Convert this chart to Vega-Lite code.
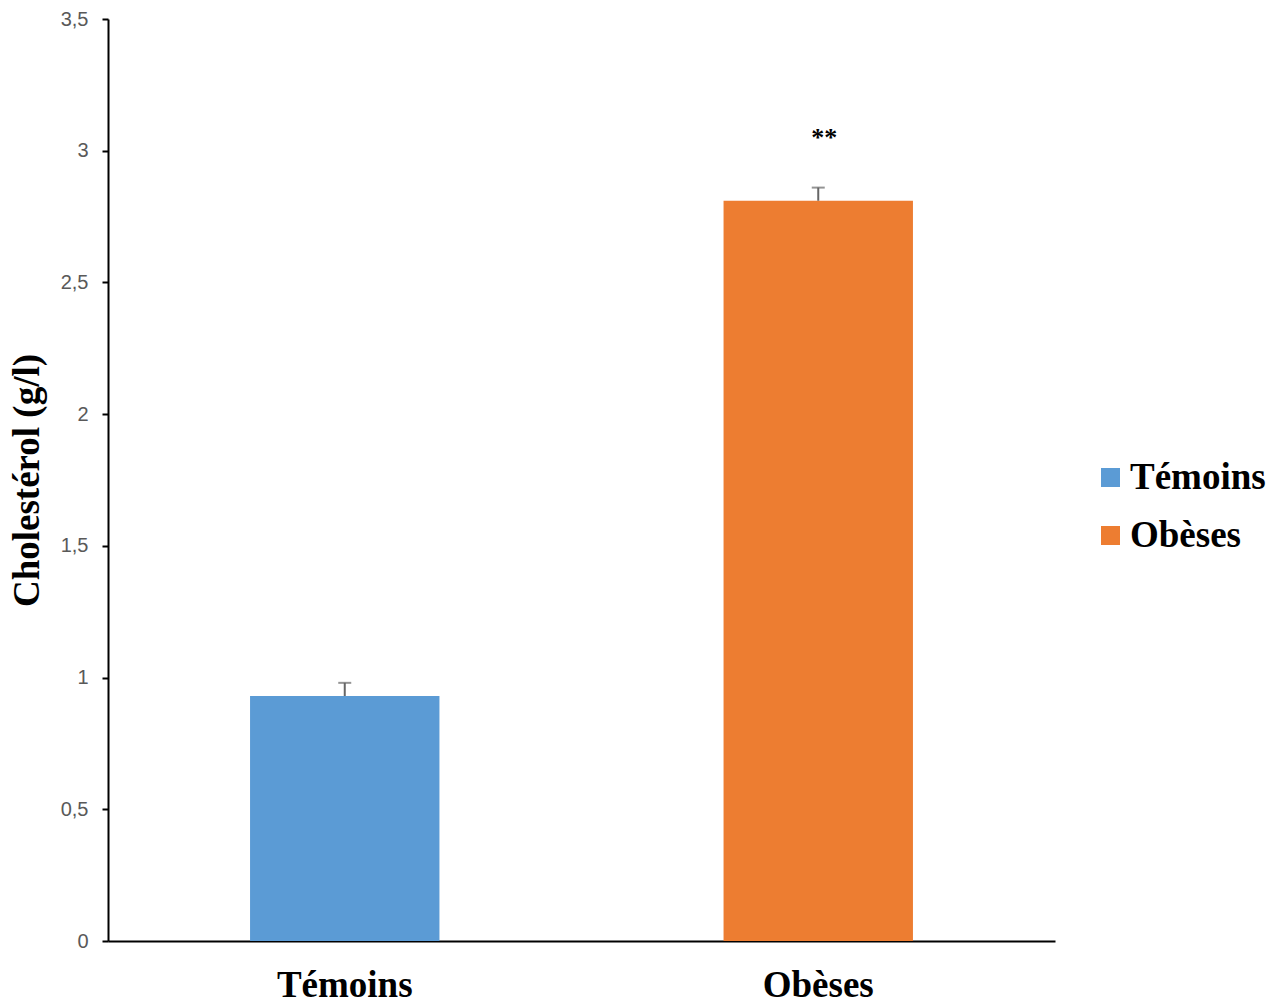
{
  "$schema": "https://vega.github.io/schema/vega-lite/v6.json",
  "autosize": {"type": "none"},
  "padding": {"left": 108, "top": 19, "right": 228, "bottom": 62},
  "width": 947,
  "height": 922,
  "background": "white",
  "config": {"view": {"stroke": null}},
  "data": {"values": [
    {"groupe": "Témoins", "chol": 0.93, "haut": 0.98, "sig": ""},
    {"groupe": "Obèses", "chol": 2.81, "haut": 2.86, "sig": "**"}
  ]},
  "encoding": {
    "x": {"field": "groupe", "type": "nominal", "sort": ["Témoins", "Obèses"],
      "scale": {"paddingInner": 0.6, "paddingOuter": 0.3},
      "axis": {"title": null, "labelAngle": 0, "ticks": false, "domainColor": "black", "domainWidth": 2,
        "labelFont": "Liberation Serif", "labelFontWeight": "bold", "labelFontSize": 37, "labelColor": "black",
        "labelPadding": 26, "labelBaseline": "top"}}
  },
  "layer": [
    {
      "mark": {"type": "bar"},
      "encoding": {
        "y": {"field": "chol", "type": "quantitative",
          "scale": {"domain": [0, 3.5], "nice": false},
          "axis": {"values": [0, 0.5, 1, 1.5, 2, 2.5, 3, 3.5], "grid": false,
            "labelExpr": "replace(format(datum.value, '~g'), '.', ',')",
            "domainColor": "black", "domainWidth": 2, "tickColor": "black", "tickWidth": 2, "tickSize": 6,
            "labelFont": "Liberation Sans", "labelFontSize": 20, "labelColor": "#595959", "labelPadding": 14,
            "title": "Cholestérol (g/l)", "titleFont": "Liberation Serif", "titleFontWeight": "bold",
            "titleFontSize": 37, "titleColor": "black", "titlePadding": 14}},
        "color": {"field": "groupe", "type": "nominal",
          "scale": {"domain": ["Témoins", "Obèses"], "range": ["#5B9BD5", "#ED7D31"]},
          "legend": {"title": null, "orient": "none", "legendX": 984, "legendY": 440,
            "symbolType": "square", "symbolSize": 361, "symbolStrokeWidth": 0,
            "labelFont": "Liberation Serif", "labelFontWeight": "bold", "labelFontSize": 37, "labelColor": "black",
            "labelOffset": 1, "rowPadding": 20, "padding": 0, "labelLimit": 400}}
      }
    },
    {
      "mark": {"type": "rule", "color": "#666666", "strokeWidth": 2},
      "encoding": {"y": {"field": "chol", "type": "quantitative"}, "y2": {"field": "haut"}}
    },
    {
      "mark": {"type": "tick", "color": "#666666", "thickness": 2, "size": 13, "orient": "horizontal"},
      "encoding": {"y": {"field": "haut", "type": "quantitative"}}
    },
    {
      "mark": {"type": "text", "font": "Liberation Serif", "fontWeight": "bold", "fontSize": 26, "color": "black", "dy": -50, "dx": 6},
      "encoding": {"y": {"field": "haut", "type": "quantitative"}, "text": {"field": "sig"}}
    }
  ]
}
